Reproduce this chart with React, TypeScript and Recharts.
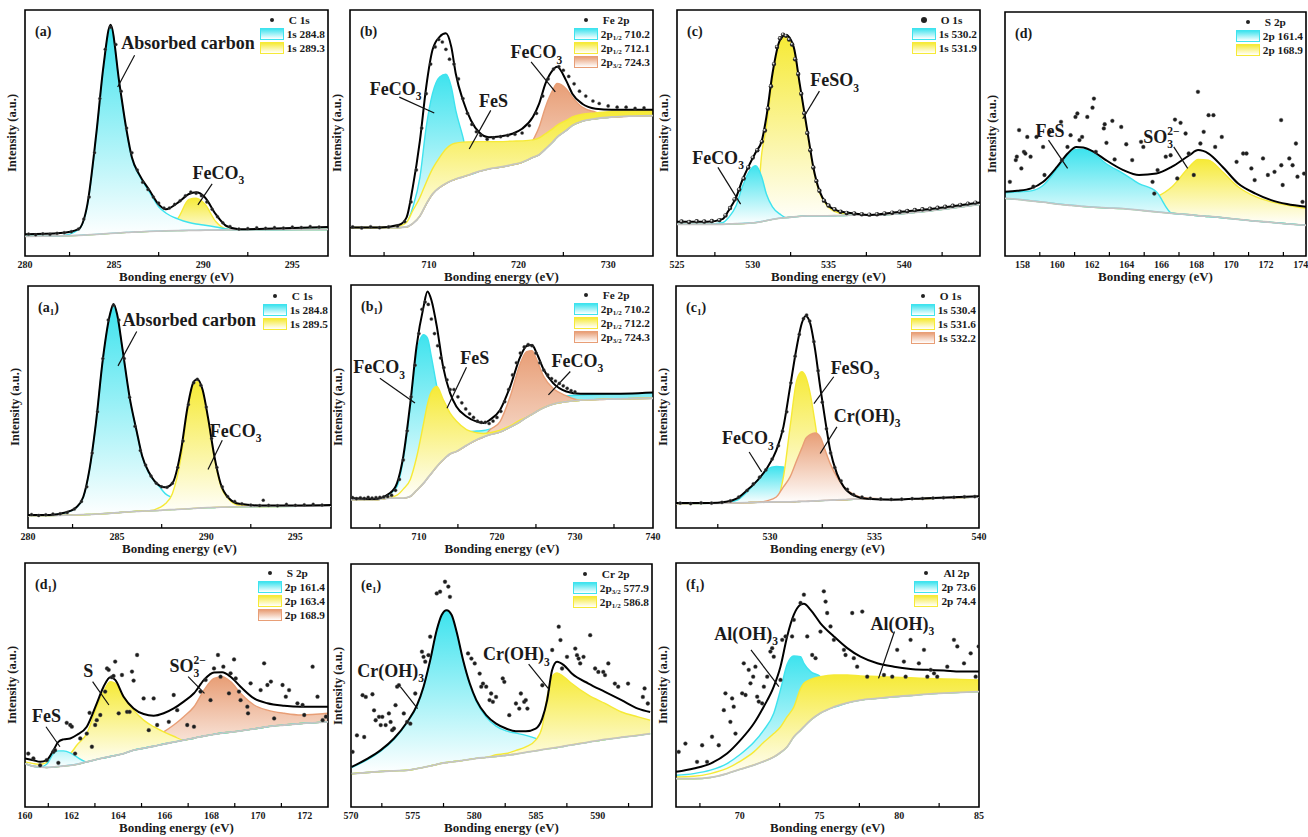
import React from 'react';
import {
  ComposedChart, Area, Line, Scatter, XAxis, YAxis,
  ReferenceLine, ReferenceDot, ReferenceArea,
} from 'recharts';

const FONT = '"Times New Roman", "Liberation Serif", "DejaVu Serif", serif';
const CYAN = '#3ee3ee';
const YELLOW = '#f6ea36';
const ORANGE = '#e89e76';
const GRAY = '#c4c4c4';

// ---------------- (a) C 1s ----------------
const aE = [280, 282, 283, 283.5, 284, 284.4, 284.8, 285.3, 285.7, 286, 286.4, 287, 287.5, 287.9, 288.6, 289.2, 289.6, 290.1, 290.7, 291.3, 292, 294, 297];
const aBase = [8.0, 8.2, 8.4, 8.6, 8.8, 9.0, 9.2, 9.4, 9.6, 9.7, 9.8, 10.0, 10.1, 10.2, 10.3, 10.4, 10.4, 10.5, 10.5, 10.6, 10.6, 10.7, 10.8];
const aFit = [8.8, 9.3, 10.9, 21, 49.7, 77, 94, 70, 51, 40, 33.3, 26.5, 21, 19, 21.8, 25.2, 25.9, 23.8, 17, 12.2, 10.9, 11.2, 11.8];
const aCyan = [null, null, 10.7, 20.5, 49, 76.5, 93.5, 69.5, 50.5, 39.5, 32.8, 25.8, 20, 17.5, 15, 13.6, 13, 12.5, 11.8, 11, null, null, null];
const aYellow = [null, null, null, null, null, null, null, null, null, null, null, null, null, null, 15.5, 23, 23.5, 21, 14, 11, null, null, null];
const aDotE = [280.2, 280.6, 281, 281.4, 281.8, 282.2, 282.6, 283, 283.3, 283.6, 283.9, 284.2, 284.5, 284.8, 285.1, 285.4, 285.7, 286, 286.3, 286.6, 286.9, 287.2, 287.5, 287.8, 288.1, 288.4, 288.7, 289, 289.3, 289.6, 289.9, 290.2, 290.5, 290.8, 291.1, 291.5, 292, 292.5, 293, 293.5, 294, 294.5, 295, 295.5, 296, 296.5];
const aDotI = [8.9, 8.6, 9.0, 8.8, 9.2, 9.5, 9.9, 11, 15, 24, 42, 64, 84, 93, 86, 67, 52, 42, 35, 30, 27, 24, 21.5, 19.5, 19.5, 21, 22.5, 24.5, 26, 25.5, 24.5, 22, 19, 16, 13.5, 12, 11, 11.2, 11.5, 11.3, 11.6, 11.4, 11.8, 11.6, 12, 11.8];

// ---------------- (b) Fe 2p ----------------
const bE = [701.2, 704.5, 706.7, 707.5, 708.2, 709, 709.7, 710.4, 711.2, 711.9, 712.5, 713, 713.8, 714.7, 715.6, 716.7, 717.9, 719.3, 720.4, 721.6, 722.3, 723, 723.8, 724.3, 725.3, 726, 727.1, 728.6, 730.4, 732.7, 735];
const bBase = [11.6, 11.6, 11.6, 11.8, 13.2, 16.3, 21.1, 25.2, 27.9, 29.5, 30.6, 31.3, 32.2, 33.3, 34.4, 35.4, 36.1, 37.1, 38.1, 40.1, 41.2, 43.5, 46.3, 48.3, 51, 53.1, 54.8, 55.8, 56.5, 56.9, 57.1];
const bFit = [11.6, 11.6, 12.7, 15.6, 27.9, 46.9, 68.7, 83.7, 89.1, 90.5, 85, 74.1, 63.3, 55.1, 50.3, 48.3, 48.6, 49.7, 51.7, 56.5, 61.9, 70.1, 75.5, 76.9, 71.4, 66, 61.9, 59.9, 59.5, 59.5, 59.5];
const bCyan = [null, null, null, 13.2, 19.7, 32, 52.4, 66, 72.8, 73.9, 68.7, 59.2, 48.3, null, null, null, null, null, null, null, null, null, null, null, null, null, null, null, null, null, null];
const bYellow = [null, null, 12.2, 13.6, 18.4, 23.8, 29.9, 35.4, 40.1, 43.5, 45.3, 45.9, 46.3, 46.4, 46.5, 46.5, 46.5, 46.7, 46.8, 47.2, 48, 49.7, 51.7, 53.1, 55.1, 56.5, 57.6, 58.2, 58.8, 59, 59];
const bOrange = [null, null, null, null, null, null, null, null, null, null, null, null, null, null, null, null, null, null, null, 46.9, 52.4, 60.5, 67.3, 70.1, 68, 64.6, 60.5, 58.5, null, null, null];
const bDotE = [701.5, 702.5, 703.5, 704.5, 705.5, 706.5, 707.3, 708, 708.6, 709.2, 709.7, 710.2, 710.7, 711.1, 711.5, 711.9, 712.3, 712.8, 713.3, 713.8, 714.3, 714.8, 715.3, 715.8, 716.5, 717.2, 718, 718.8, 719.6, 720.4, 721.2, 722, 722.7, 723.3, 723.9, 724.5, 725, 725.6, 726.2, 726.8, 727.5, 728.3, 729, 730, 731, 732, 733, 734];
const bDotI = [11.8, 11.4, 11.9, 11.5, 11.8, 12.2, 14, 22, 35, 52, 66, 78, 85, 88, 87, 84, 80, 78, 72, 64, 58, 53.5, 50.5, 49, 47.5, 48, 48.5, 49, 49.5, 50, 53, 58, 65, 72, 76, 77, 75.5, 73, 70, 67, 65, 63, 62, 61, 60.5, 60.5, 60, 60.2];

// ---------------- (c) O 1s ----------------
const cE = [525, 527, 528, 528.4, 528.9, 529.3, 529.8, 530.2, 530.6, 530.9, 531.3, 531.8, 532.2, 532.7, 533.1, 533.6, 534, 534.4, 534.9, 535.6, 536.7, 537.8, 539.3, 541.6, 543.8, 545];
const cBase = [12.9, 12.9, 12.9, 13, 13.1, 13.2, 13.4, 13.6, 14, 14.4, 14.9, 15.4, 15.6, 15.9, 16.1, 16.3, 16.3, 16.3, 16.3, 16.4, 16.6, 16.6, 17, 18.3, 20, 21];
const cFit = [13.9, 13.9, 15, 18.4, 23.8, 30.6, 37.4, 42.2, 46.9, 56.5, 74.1, 87.8, 89.8, 85, 70, 51, 36, 26.5, 21.1, 18.4, 17.3, 16.7, 17.7, 19, 20.7, 21.8];
const cCyan = [null, null, 13.5, 15.6, 20.4, 27.9, 34.7, 36.7, 32, 25.2, 20, 17, 15.6, null, null, null, null, null, null, null, null, null, null, null, null, null];
const cYellow = [null, null, null, null, null, null, null, 15, 42, 52.4, 72, 87, 89.4, 84.4, 69.4, 50.3, 35.4, 25.9, 20.4, 17.7, 16.7, null, null, null, null, null];
const cDotE = [525.3, 525.8, 526.3, 526.8, 527.3, 527.8, 528.2, 528.5, 528.8, 529.1, 529.4, 529.7, 530, 530.3, 530.6, 530.8, 531, 531.2, 531.4, 531.6, 531.8, 532, 532.2, 532.4, 532.6, 532.8, 533, 533.2, 533.4, 533.6, 533.8, 534, 534.2, 534.4, 534.7, 535, 535.4, 535.8, 536.2, 536.7, 537.2, 537.7, 538.2, 538.7, 539.2, 539.7, 540.2, 540.7, 541.2, 541.7, 542.2, 542.7, 543.2, 543.7, 544.2, 544.7];
const cDotI = [14, 13.8, 14.1, 14, 14.2, 14.6, 16.5, 19.5, 23, 27, 31.5, 36, 40, 43, 46.5, 51, 60, 69, 78, 85, 88.5, 90, 89.5, 88, 86, 80, 74, 66, 58, 50, 43, 36, 30.5, 26.5, 22.5, 20.5, 19, 18, 17.5, 17.3, 17, 16.8, 17, 17.3, 17.6, 18, 18.3, 18.7, 19, 19.2, 19.6, 20, 20.4, 20.8, 21.3, 21.7];

// ---------------- (d) S 2p ----------------
const dE = [157, 157.7, 158.5, 159.2, 160, 160.6, 161.1, 161.5, 162.1, 162.8, 163.8, 164.7, 165.7, 166.6, 167.6, 168.1, 168.7, 169.5, 170.4, 171.4, 172.3, 173.2, 174.3];
const dBase = [23.6, 23.2, 22.6, 22.1, 21.3, 20.9, 20.6, 20.3, 20, 19.7, 19.4, 18.8, 18.1, 17.5, 16.9, 16.5, 16.2, 15.7, 15, 14.3, 13.8, 13.2, 12.6];
const dFit = [26.3, 26.7, 27.7, 30.4, 36.6, 42, 44.7, 44.5, 42.7, 39.3, 35.2, 33.2, 33.8, 36.6, 41.3, 43.4, 42, 36.6, 29.7, 25.6, 22.9, 21.3, 20.2];
const dCyan = [25.9, 26.3, 26.7, 29, 35.9, 41.3, 43.7, 43.7, 42, 37.9, 33.8, 29.7, 26.3, null, null, null, null, null, null, null, null, null, null];
const dYellow = [24.3, 23.9, 23.4, 22.9, 22.2, 21.9, 21.6, 21.4, 21.3, 21.3, 21.8, 22.9, 24.3, 28.4, 36.6, 39.6, 39.3, 34.5, 28.4, 24.3, 22.2, 20.9, 19.5];
const dDotE = [157.28, 157.62, 157.68, 157.81, 157.94, 158.09, 158.17, 158.28, 158.47, 158.63, 158.81, 159.19, 159.27, 159.57, 160.22, 160.27, 160.59, 160.77, 161.05, 161.16, 161.28, 161.43, 161.73, 162.03, 162.11, 162.22, 162.68, 162.73, 162.83, 163.17, 163.3, 163.68, 163.97, 164.31, 164.82, 164.95, 165.48, 165.58, 165.77, 166.24, 166.52, 166.77, 166.9, 167.09, 167.38, 167.56, 167.85, 168.09, 168.23, 168.42, 168.7, 168.98, 169.08, 169.46, 170.31, 170.69, 170.88, 171.16, 171.35, 171.83, 172.11, 172.49, 172.87, 172.88, 172.96, 173.34, 173.53, 173.72, 173.81, 174.1, 174.19];
const dDotI = [30.4, 39.3, 40.7, 51.6, 35.9, 42.7, 42, 48.8, 40.7, 28.4, 48.8, 44.7, 33.2, 50.9, 55, 39.3, 44.7, 49.5, 57, 58.4, 47.5, 48.8, 57, 60.8, 64.5, 42.7, 52.3, 54, 46.4, 55.4, 39.6, 52.9, 45.8, 39.3, 46.8, 44.7, 30.4, 25.6, 35.2, 40.7, 41.3, 55.9, 31.8, 54.6, 50.2, 42, 33.2, 67.3, 46.1, 50.9, 57.7, 57.7, 44.7, 48.8, 38.6, 42, 42, 35.9, 31.1, 40, 33.2, 34.5, 55.7, 37.2, 29.1, 40, 37.2, 46.1, 32.5, 22.2, 33.8];

// ---------------- (a1) C 1s ----------------
const a1E = [280, 281.2, 282.1, 282.7, 283.1, 283.45, 283.8, 284.2, 284.6, 284.8, 285, 285.3, 285.7, 286.1, 286.4, 286.8, 287.4, 287.7, 288.1, 288.6, 288.95, 289.3, 289.5, 289.8, 290.1, 290.45, 290.8, 291.3, 291.85, 293, 295.2, 297];
const a1Base = [5, 5.1, 5.3, 5.4, 5.5, 5.6, 5.7, 5.9, 6.1, 6.2, 6.3, 6.5, 6.7, 6.9, 7, 7.1, 7.3, 7.5, 7.6, 7.8, 7.9, 8.1, 8.2, 8.3, 8.4, 8.5, 8.6, 8.7, 8.8, 8.9, 9, 9.1];
const a1Fit = [5.4, 5.4, 6.4, 8.5, 12.8, 24.2, 42.7, 69.8, 88.3, 92.6, 88.3, 74, 54.1, 39.9, 29.9, 22.8, 17.4, 16.8, 18.5, 32.8, 49.9, 60.5, 61.5, 57, 45.6, 29.9, 18.5, 12.1, 10, 9.3, 9.3, 9.5];
const a1Cyan = [null, 5.3, 6.3, 8.4, 12.6, 24, 42.5, 69.5, 88, 92.3, 88, 73.7, 53.8, 39.6, 29.6, 22.4, 16.8, 14.2, 12.5, 10.5, 9.3, null, null, null, null, null, null, null, null, null, null, null];
const a1Yellow = [null, null, null, null, null, null, null, null, null, null, null, null, null, null, null, null, 8.5, 10, 14.2, 29.9, 48.4, 59.1, 60.5, 56.3, 44.9, 29.2, 17.8, 11.7, 9.4, null, null, null];
const a1DotE = [280.2, 280.6, 281, 281.4, 281.8, 282.2, 282.6, 283, 283.3, 283.6, 283.9, 284.2, 284.5, 284.8, 285.1, 285.4, 285.7, 286, 286.3, 286.6, 286.9, 287.2, 287.5, 287.8, 288.1, 288.4, 288.7, 289, 289.3, 289.5, 289.7, 290, 290.3, 290.6, 290.9, 291.2, 291.6, 292, 292.5, 293, 293.2, 293.5, 294, 294.5, 295, 295.5, 296, 296.5];
const a1DotI = [5.6, 5.2, 5.5, 5.8, 5.9, 6.4, 7.8, 11, 17, 31, 48, 70, 86, 92, 86, 70, 54, 42, 32, 26, 21.5, 18.5, 17, 16.8, 18.5, 25, 36, 51, 60, 61.5, 59, 50, 37, 25, 17, 13, 11, 10, 9.5, 9.3, 11.5, 9.4, 9.2, 9.8, 9.4, 9.6, 9.8, 9.5];

// ---------------- (b1) Fe 2p ----------------
const b1E = [701.3, 704.2, 706.3, 707.2, 708, 708.9, 709.7, 710.6, 711.1, 711.6, 712.3, 713.1, 714, 714.8, 716.1, 717.4, 718.3, 719.1, 720.4, 721.7, 723, 723.8, 724.5, 725.1, 726, 727.2, 728.9, 730.7, 734.1, 740];
const b1Base = [11.6, 11.6, 12.3, 12.3, 12.3, 13, 15.5, 18.5, 20.5, 22.5, 25.3, 28, 30.5, 31.5, 34, 36.3, 37.5, 38.4, 39.5, 41.5, 43.8, 45.5, 46.8, 48, 49.5, 51, 52, 52.6, 53, 53.4];
const b1Fit = [12.3, 11.9, 14.4, 18.5, 29.5, 51.4, 74.7, 91.1, 97.3, 93.8, 82.9, 66.4, 55.5, 50, 45.9, 43.8, 43.2, 44.5, 48.6, 58.2, 70.5, 74.9, 75.3, 71.9, 65.1, 59.6, 56.2, 55.2, 55.2, 55.8];
const b1Cyan = [null, null, 14.1, 17.1, 28.1, 50, 71.9, 79.5, 78.1, 70.5, 58.2, 47.3, 42.5, 40.7, 39.7, 39.9, 40.1, 40.7, 42, 43.8, 46, 48, 49.5, 50.5, 52, 53.2, 54.3, 54.7, 55, 55.5];
const b1Yellow = [null, null, 12.6, 13.5, 16, 20, 29, 43, 51, 56, 58.2, 53, 47.3, 44, 40.5, 39.2, 38.9, 39.2, 40.3, 42, 44.5, null, null, null, null, null, null, null, null, null];
const b1Orange = [null, null, null, null, null, null, null, null, null, null, null, null, null, null, null, null, null, 40.4, 43.8, 54.1, 67.8, 72.6, 73, 69.2, 62.3, 57.5, 54.4, null, null, null];
const b1DotE = [701.5, 702, 702.5, 703, 703.5, 704, 704.5, 705, 705.5, 706, 706.5, 707, 707.5, 708, 708.5, 709, 709.5, 710, 710.4, 710.8, 711.2, 711.6, 712, 712.4, 712.8, 713.2, 713.6, 714, 714.5, 715, 715.5, 716, 716.5, 717, 717.5, 718, 718.5, 719, 719.5, 720, 720.5, 721, 721.5, 722, 722.5, 723, 723.5, 724, 724.5, 725, 725.5, 726, 726.5, 727, 727.5, 728, 728.5, 729, 729.5, 730];
const b1DotI = [12.5, 12.1, 12.4, 12.2, 12.6, 12.3, 12.5, 12.6, 12.8, 13, 13.5, 15.5, 20, 28, 40, 54, 67, 80, 90, 93, 92, 86, 80, 75, 70, 66, 61, 57, 57, 54, 51.5, 49, 47, 45.5, 44, 43.5, 43.5, 43, 44, 45.5, 48, 52, 57, 63, 68, 72, 74.5, 75.5, 75, 72, 68, 65, 63, 61.5, 60.5, 59.5, 58.5, 57.5, 56.5, 56];

// ---------------- (c1) O 1s ----------------
const c1E = [525.5, 527.1, 527.9, 528.4, 528.9, 529.4, 529.84, 530.3, 530.64, 530.96, 531.28, 531.52, 531.71, 531.92, 532.16, 532.4, 532.64, 532.88, 533.2, 533.53, 534, 534.65, 535.9, 537.5, 540];
const c1Base = [10.1, 10.2, 10.3, 10.4, 10.5, 10.6, 10.7, 10.8, 10.8, 10.8, 10.9, 11, 11, 11.1, 11.2, 11.3, 11.4, 11.5, 11.6, 11.7, 11.9, 12, 12, 12.2, 12.8];
const c1Fit = [10.3, 10.3, 10.8, 12.1, 15.6, 19.7, 24.6, 32.1, 41.8, 58.3, 74.9, 84.6, 87.6, 84.6, 73.5, 58.3, 44.6, 32.1, 22.5, 17, 13.5, 12.1, 11.7, 12.3, 13.1];
const c1Cyan = [null, null, 10.5, 11.4, 14.9, 19.7, 24.1, 25.4, 25.2, 20, 16, 13.5, 12.5, 11.8, null, null, null, null, null, null, null, null, null, null, null];
const c1Yellow = [null, null, null, null, null, null, null, 11.4, 21.1, 41.8, 61.1, 64.6, 62.5, 55.6, 43.2, 29.4, 21.1, 15.6, 12.8, null, null, null, null, null, null];
const c1Orange = [null, null, null, null, null, null, 11.2, 12.8, 17, 21.1, 28, 33, 37, 38.6, 39.3, 37.7, 32.1, 26.6, 21.1, 17, 13.9, 12.3, null, null, null];
const c1DotE = [525.7, 526.2, 526.7, 527.2, 527.7, 528.1, 528.5, 528.9, 529.2, 529.5, 529.8, 530.1, 530.4, 530.6, 530.8, 531, 531.2, 531.4, 531.6, 531.75, 531.9, 532.1, 532.3, 532.5, 532.7, 532.9, 533.1, 533.4, 533.7, 534, 534.4, 534.8, 535.3, 535.8, 536.3, 536.8, 537.3, 537.8, 538.3, 538.8, 539.3, 539.8];
const c1DotI = [10.3, 10.1, 10.4, 10.3, 10.6, 11.2, 12.8, 15.5, 18.2, 21, 24, 28.5, 34, 40, 48, 60, 71, 80, 86.5, 88, 85.5, 77, 65, 52, 41, 31, 25, 19.5, 16, 13.8, 12.8, 12.3, 12, 11.8, 11.9, 12.1, 12.2, 12.4, 12.5, 12.7, 12.9, 13];

// ---------------- (d1) S 2p ----------------
const d1E = [160, 160.36, 160.65, 160.93, 161.22, 161.43, 161.65, 161.94, 162.22, 162.65, 163.08, 163.37, 163.66, 163.87, 164.23, 164.66, 165.09, 165.52, 165.95, 166.38, 166.81, 167.25, 167.68, 168.11, 168.46, 168.82, 169.25, 169.83, 170.4, 171.12, 171.84, 173];
const d1Base = [17.8, 16.7, 16.4, 16.2, 16.4, 16.6, 16.8, 17.1, 17.5, 18.5, 19.5, 20.1, 20.7, 21.1, 21.9, 23.3, 24.1, 24.9, 25.8, 26.6, 27.4, 28.2, 29.1, 29.8, 30.3, 30.7, 31.2, 32, 32.9, 33.6, 34.2, 34.9];
const d1Fit = [19.9, 19.2, 18.5, 19.2, 23.3, 26.7, 27.7, 28.1, 29.5, 32.9, 42.5, 49.3, 53.2, 52.1, 45.2, 40.4, 38.1, 37.4, 38.4, 40.4, 43.2, 46.6, 52.1, 55.1, 55.2, 53.4, 49.3, 44.5, 42.5, 41.5, 41.1, 41.1];
const d1Cyan = [null, null, null, 17.5, 21.9, 23, 23, 22.2, 20.5, null, null, null, null, null, null, null, null, null, null, null, null, null, null, null, null, null, null, null, null, null, null, null];
const d1Yellow = [18.5, 17.8, 17.5, 18.2, 19.2, 20.2, 21, 21.9, 25.3, 30.1, 41.1, 47.3, 51.4, 50.7, 45.2, 39.7, 35.6, 32.9, 30.8, 29, null, null, null, null, null, null, null, null, null, null, null, null];
const d1Orange = [17.9, 17, 16.7, 16.6, 16.8, 17, 17.3, 17.7, 18.2, 19.2, 20.3, 21, 21.7, 22.2, 23.3, 24.7, 26.5, 28.8, 30.8, 33.6, 37, 41.1, 47.9, 52.7, 53.4, 51.4, 46.6, 41.8, 39.7, 38.4, 37.7, 38.4];
const d1DotE = [160.14, 160.36, 160.65, 160.93, 161.22, 161.29, 161.43, 161.79, 161.94, 162.01, 162.15, 162.37, 162.65, 162.77, 162.87, 163.01, 163.08, 163.23, 163.44, 163.52, 163.59, 163.73, 163.8, 163.87, 164.02, 164.16, 164.38, 164.49, 164.59, 164.66, 164.81, 165.09, 165.31, 165.52, 165.67, 166.17, 166.38, 166.53, 166.96, 167.25, 167.53, 167.75, 167.96, 168.11, 168.28, 168.39, 168.51, 168.75, 168.82, 168.97, 169.04, 169.18, 169.25, 169.54, 169.57, 169.68, 170.11, 170.26, 170.4, 170.55, 170.69, 171.05, 171.19, 171.33, 171.69, 171.91, 171.98, 172.34, 172.55, 172.77, 172.91];
const d1DotI = [21.9, 19.9, 17.1, 19.2, 22.6, 23.3, 18.1, 34.5, 33.6, 32.9, 21.9, 28.1, 30.1, 38.6, 24.7, 33.6, 35.6, 37.7, 47.3, 56.8, 56.2, 53.2, 53.7, 59.6, 38.4, 54.1, 39, 39, 55.5, 51.8, 62.3, 44.5, 31.5, 44.5, 33.6, 34.9, 45.9, 39.7, 33.6, 32.9, 47.3, 52.1, 43.8, 56.8, 62.3, 53.4, 57.5, 46.6, 54.8, 60.5, 52.7, 47.3, 43.8, 41.1, 38.4, 50.7, 47.9, 58.9, 50, 51.4, 36.3, 50, 45.2, 47.9, 42.5, 41.8, 37.7, 57.5, 45.2, 35.6, 37];

// ---------------- (e1) Cr 2p ----------------
const e1E = [570.05, 571.34, 572.41, 573.48, 574.55, 575.35, 575.88, 576.42, 576.95, 577.35, 577.75, 578.16, 578.56, 579.09, 579.63, 580.16, 580.96, 581.76, 582.57, 583.37, 584.17, 584.97, 585.5, 585.9, 586.3, 586.7, 587.25, 587.9, 589.25, 590.59, 591.93, 593.26, 594.25];
const e1Base = [13.7, 14.2, 14.6, 14.9, 15.1, 15.8, 16.3, 16.9, 17.5, 18, 18.3, 18.6, 18.8, 19.2, 19.6, 20, 20.4, 20.8, 21.3, 21.8, 22.5, 23.1, 23.6, 23.9, 24.2, 24.5, 25, 25.6, 26.7, 27.8, 28.7, 29.5, 30.2];
const e1Fit = [16.5, 19.9, 23.4, 28.2, 35, 41.9, 49.5, 60.4, 72.8, 79, 81, 79, 72.1, 60.4, 50.8, 44, 37.8, 34.3, 32.3, 31.2, 31.2, 32.3, 36.4, 44, 56.3, 59.8, 58.4, 54.9, 50.8, 47.4, 44, 40.5, 39.1];
const e1Cyan = [16.2, 19.5, 23, 27.8, 34.6, 41.5, 49, 60, 72.4, 78.6, 80.6, 78.6, 71.7, 60, 50.3, 43.4, 37, 33.3, 31.3, 30.4, 29.5, 28.2, 26.8, 25.5, null, null, null, null, null, null, null, null, null];
const e1Yellow = [null, null, null, null, null, null, null, null, null, null, null, null, null, null, null, null, null, 21.5, 22, 23.3, 24.7, 27.5, 33, 45.3, 53.6, 55.2, 53.6, 50.8, 46, 42.6, 39.1, 37.1, 35.7];
const e1DotE = [570.13, 570.48, 570.94, 571.07, 571.2, 571.74, 571.87, 572, 572.27, 572.41, 572.54, 572.81, 573.07, 573.21, 573.34, 573.48, 573.61, 573.74, 573.88, 574.28, 574.55, 574.81, 575.21, 575.75, 575.88, 576.02, 576.28, 576.42, 576.95, 577.22, 577.62, 577.89, 578.02, 579.49, 579.76, 580.03, 580.43, 580.56, 580.7, 580.96, 581.23, 581.36, 581.5, 581.76, 582.3, 582.43, 582.83, 583.37, 583.64, 583.77, 584.04, 584.17, 584.3, 585.51, 586.31, 586.84, 586.98, 587.11, 587.51, 588.18, 588.32, 588.45, 588.58, 588.85, 589.39, 589.79, 590.05, 590.45, 590.59, 590.86, 591.39, 591.66, 592.46, 593.66, 593.8, 594.06];
const e1DotI = [22.7, 29.5, 46, 28.8, 45.3, 46.4, 39.8, 35.7, 37.1, 33.7, 37.1, 33.7, 38.5, 35, 31.6, 32.3, 41.9, 49.5, 50.1, 38.5, 35, 34.3, 46.7, 63.9, 61.8, 59.8, 62.5, 70.1, 87.9, 88.6, 92.7, 90.7, 86.5, 63.2, 61.1, 59.1, 54.9, 49.5, 50.8, 49.5, 44, 46.7, 43.3, 45.3, 52.9, 51.5, 37.8, 42.6, 40.5, 46.7, 43.3, 44, 40.5, 50.1, 64.6, 74.2, 68.7, 57, 61.8, 65.2, 62.5, 61.1, 59.1, 61.8, 70.7, 57, 55.6, 55.6, 54.3, 59.1, 50.8, 49.5, 50.8, 45.3, 48.8, 42.6];

// ---------------- (f1) Al 2p ----------------
const f1E = [66, 67.11, 68.16, 69.2, 70.04, 70.88, 71.5, 72.13, 72.55, 72.97, 73.39, 73.81, 74.02, 74.44, 75.06, 75.9, 76.74, 77.57, 78.62, 79.67, 80.71, 81.76, 82.8, 83.85, 85];
const f1Base = [11.6, 11.6, 12.1, 13.7, 15.5, 17.2, 18.7, 20.5, 22.3, 24.7, 28.8, 31.5, 32.9, 35.6, 38.5, 41, 42.7, 43.8, 44.5, 45.2, 45.7, 46.3, 46.7, 47, 47.3];
const f1Fit = [14.4, 15.8, 17.8, 21.9, 27.4, 34.2, 41.1, 49.3, 57.5, 69.9, 78.8, 82.9, 83.3, 80.8, 75.3, 69.9, 65.1, 61.6, 58.9, 57.5, 56.6, 56.2, 55.9, 55.5, 55.5];
const f1Cyan = [13, 13.7, 15.1, 17.8, 21.6, 26.5, 31.5, 38.4, 48, 58.5, 61.9, 61.6, 58.9, 55.5, 53.4, null, null, null, null, null, null, null, null, null, null];
const f1Yellow = [12.3, 12.6, 13.7, 15.8, 18.8, 22.6, 26.5, 30.1, 32.8, 37, 41, 48.5, 50.7, 52.3, 53.4, 54.1, 54.1, 53.7, 53.5, 53.2, 53, 52.7, 52.5, 52.3, 52.1];
const f1DotE = [66.17, 66.59, 67.32, 67.64, 67.95, 68.26, 68.68, 69, 69.1, 69.41, 69.52, 69.62, 69.73, 70.15, 70.25, 70.36, 70.56, 70.67, 70.84, 70.98, 71.09, 71.19, 71.4, 71.51, 71.72, 71.92, 72.03, 72.13, 72.55, 72.66, 72.87, 73.28, 73.39, 73.81, 74.02, 74.23, 74.54, 74.75, 75.06, 75.27, 75.38, 75.48, 75.69, 75.9, 76.53, 76.63, 77.05, 77.15, 77.36, 77.68, 77.99, 79.04, 79.56, 79.87, 80.29, 80.4, 80.71, 81.23, 81.55, 81.76, 81.97, 82.18, 82.38, 83.01, 83.43, 83.64, 84.06, 84.48, 84.79, 84.98];
const f1DotI = [22.6, 26, 18.5, 25.3, 18.5, 28.8, 25.3, 39.7, 46.6, 34.9, 44.5, 41.1, 30.1, 46.6, 58.9, 45.9, 56.2, 50.7, 53.4, 57.5, 45.2, 43.2, 42.5, 49.3, 53.4, 63.7, 65.1, 61.6, 52.1, 68.5, 69.9, 69.9, 76.7, 83.6, 87, 69.9, 62.3, 61, 71.9, 88.4, 84.2, 79.5, 74, 68.5, 64.4, 62.3, 79.5, 61, 57.5, 80.1, 53.4, 54.1, 53.4, 64.4, 59.6, 53.4, 68.5, 58.9, 64.4, 53.4, 56.2, 54.8, 53.4, 57.5, 68.5, 65.8, 58.9, 63, 53.4, 65.8];

// ---------------- text pieces ----------------
type Part = { t: string; s?: 'sub' | 'supback' };
const FECO3: Part[] = [{ t: 'FeCO' }, { t: '3', s: 'sub' }];
const FESO3: Part[] = [{ t: 'FeSO' }, { t: '3', s: 'sub' }];
const CROH3: Part[] = [{ t: 'Cr(OH)' }, { t: '3', s: 'sub' }];
const ALOH3: Part[] = [{ t: 'Al(OH)' }, { t: '3', s: 'sub' }];
const SO32: Part[] = [{ t: 'SO' }, { t: '3', s: 'sub' }, { t: '2−', s: 'supback' }];
const TXT = (t: string): Part[] => [{ t }];
const L = (a: string, sub?: string, b?: string): Part[] => (sub ? [{ t: a }, { t: sub, s: 'sub' }, { t: b || '' }] : [{ t: a }]);

type Ann = { parts: Part[]; x: number; y: number; line: number[]; size?: number };
type Comp = { data: (number | null)[]; color: string };
type Cfg = {
  id: string; label: string; labelSub?: string;
  left: number; top: number; w: number; h: number;
  domain: [number, number]; majors: number[]; minors: number[];
  E: number[]; base: number[]; fit: number[]; comps: Comp[];
  dotE: number[]; dotI: number[]; dotR: number; ball?: boolean;
  legendTitle: string; legend: { color: string; parts: Part[] }[];
  anns: Ann[];
};

const panels: Cfg[] = [
  {
    id: 'a', label: '(a)', left: 25, top: 10, w: 303, h: 246,
    domain: [280, 297], majors: [280, 285, 290, 295], minors: [282.5, 287.5, 292.5],
    E: aE, base: aBase, fit: aFit, comps: [{ data: aYellow, color: YELLOW }, { data: aCyan, color: CYAN }],
    dotE: aDotE, dotI: aDotI, dotR: 1.5,
    legendTitle: 'C 1s', legend: [{ color: CYAN, parts: L('1s 284.8') }, { color: YELLOW, parts: L('1s 289.3') }],
    anns: [
      { parts: TXT('Absorbed carbon'), x: 285.4, y: 84, line: [286.15, 81.6, 285.2, 68.7] },
      { parts: FECO3, x: 289.4, y: 31.5, line: [290.5, 29.3, 289.7, 20.8] },
    ],
  },
  {
    id: 'b', label: '(b)', left: 350, top: 10, w: 303, h: 246,
    domain: [701.2, 735], majors: [710, 720, 730], minors: [705, 715, 725],
    E: bE, base: bBase, fit: bFit,
    comps: [{ data: bCyan, color: CYAN }, { data: bOrange, color: ORANGE }, { data: bYellow, color: YELLOW }],
    dotE: bDotE, dotI: bDotI, dotR: 1.6,
    legendTitle: 'Fe 2p',
    legend: [
      { color: CYAN, parts: L('2p', '1/2', ' 710.2') },
      { color: YELLOW, parts: L('2p', '1/2', ' 712.1') },
      { color: ORANGE, parts: L('2p', '3/2', ' 724.3') },
    ],
    anns: [
      { parts: FECO3, x: 703.4, y: 65.6, line: [706.7, 64.6, 710.6, 58.1] },
      { parts: TXT('FeS'), x: 715.6, y: 60.5, line: [716.9, 59.2, 714.5, 43.5] },
      { parts: FECO3, x: 719.1, y: 80.3, line: [721.4, 78.9, 724.1, 66.7] },
    ],
  },
  {
    id: 'c', label: '(c)', left: 677, top: 10, w: 303, h: 246,
    domain: [525, 545], majors: [525, 530, 535, 540], minors: [527.5, 532.5, 537.5, 542.5],
    E: cE, base: cBase, fit: cFit, comps: [{ data: cYellow, color: YELLOW }, { data: cCyan, color: CYAN }],
    dotE: cDotE, dotI: cDotI, dotR: 2.2, ball: true,
    legendTitle: 'O 1s', legend: [{ color: CYAN, parts: L('1s 530.2') }, { color: YELLOW, parts: L('1s 531.9') }],
    anns: [
      { parts: FECO3, x: 526, y: 37.4, line: [527.7, 36, 529.2, 21.1] },
      { parts: FESO3, x: 533.8, y: 69, line: [534.4, 67, 533.3, 55.8] },
    ],
  },
  {
    id: 'd', label: '(d)', left: 1005, top: 12, w: 301, h: 244,
    domain: [157, 174.3], majors: [158, 160, 162, 164, 166, 168, 170, 172, 174], minors: [159, 161, 163, 165, 167, 169, 171, 173],
    E: dE, base: dBase, fit: dFit, comps: [{ data: dYellow, color: YELLOW }, { data: dCyan, color: CYAN }],
    dotE: dDotE, dotI: dDotI, dotR: 1.9,
    legendTitle: 'S 2p', legend: [{ color: CYAN, parts: L('2p 161.4') }, { color: YELLOW, parts: L('2p 168.9') }],
    anns: [
      { parts: TXT('FeS'), x: 158.76, y: 48.8, line: [159.5, 47.5, 160.6, 35.9] },
      { parts: SO32, x: 164.95, y: 46.4, line: [166.7, 44.7, 167.5, 35.9] },
    ],
  },
  {
    id: 'a1', label: '(a', labelSub: '1', left: 28, top: 286, w: 303, h: 242,
    domain: [280, 297], majors: [280, 285, 290, 295], minors: [282.5, 287.5, 292.5],
    E: a1E, base: a1Base, fit: a1Fit, comps: [{ data: a1Cyan, color: CYAN }, { data: a1Yellow, color: YELLOW }],
    dotE: a1DotE, dotI: a1DotI, dotR: 1.5,
    legendTitle: 'C 1s', legend: [{ color: CYAN, parts: L('1s 284.8') }, { color: YELLOW, parts: L('1s 289.5') }],
    anns: [
      { parts: TXT('Absorbed carbon'), x: 285.3, y: 83.6, line: [286.1, 81.2, 285.05, 67] },
      { parts: FECO3, x: 290.2, y: 37.7, line: [290.9, 36.3, 290.1, 24.2] },
    ],
  },
  {
    id: 'b1', label: '(b', labelSub: '1', left: 351, top: 285, w: 302, h: 243,
    domain: [701.3, 740], majors: [710, 720, 730, 740], minors: [705, 715, 725, 735],
    E: b1E, base: b1Base, fit: b1Fit,
    comps: [{ data: b1Cyan, color: CYAN }, { data: b1Orange, color: ORANGE }, { data: b1Yellow, color: YELLOW }],
    dotE: b1DotE, dotI: b1DotI, dotR: 1.6,
    legendTitle: 'Fe 2p',
    legend: [
      { color: CYAN, parts: L('2p', '1/2', ' 710.2') },
      { color: YELLOW, parts: L('2p', '1/2', ' 712.2') },
      { color: ORANGE, parts: L('2p', '3/2', ' 724.3') },
    ],
    anns: [
      { parts: FECO3, x: 701.6, y: 63.7, line: [705, 61.6, 709.5, 51.4] },
      { parts: TXT('FeS'), x: 715.3, y: 67.5, line: [716.1, 66.2, 713.6, 49.3] },
      { parts: FECO3, x: 727, y: 66.4, line: [729.4, 64.4, 726.6, 54.8] },
    ],
  },
  {
    id: 'c1', label: '(c', labelSub: '1', left: 676, top: 286, w: 303, h: 242,
    domain: [525.5, 540], majors: [530, 535, 540], minors: [527.5, 532.5, 537.5],
    E: c1E, base: c1Base, fit: c1Fit,
    comps: [{ data: c1Cyan, color: CYAN }, { data: c1Yellow, color: YELLOW }, { data: c1Orange, color: ORANGE }],
    dotE: c1DotE, dotI: c1DotI, dotR: 1.6,
    legendTitle: 'O 1s',
    legend: [{ color: CYAN, parts: L('1s 530.4') }, { color: YELLOW, parts: L('1s 531.6') }, { color: ORANGE, parts: L('1s 532.2') }],
    anns: [
      { parts: FECO3, x: 527.7, y: 34.6, line: [529, 31.4, 529.6, 23.2] },
      { parts: FESO3, x: 532.9, y: 63.6, line: [533.05, 62.5, 532.1, 51.4] },
      { parts: CROH3, x: 533.05, y: 43.9, line: [533.2, 41.8, 532.4, 30.8] },
    ],
  },
  {
    id: 'd1', label: '(d', labelSub: '1', left: 25, top: 563, w: 303, h: 244,
    domain: [160, 173], majors: [160, 162, 164, 166, 168, 170, 172], minors: [161, 163, 165, 167, 169, 171],
    E: d1E, base: d1Base, fit: d1Fit,
    comps: [{ data: d1Orange, color: ORANGE }, { data: d1Yellow, color: YELLOW }, { data: d1Cyan, color: CYAN }],
    dotE: d1DotE, dotI: d1DotI, dotR: 1.9,
    legendTitle: 'S 2p',
    legend: [{ color: CYAN, parts: L('2p 161.4') }, { color: YELLOW, parts: L('2p 163.4') }, { color: ORANGE, parts: L('2p 168.9') }],
    anns: [
      { parts: TXT('FeS'), x: 160.3, y: 34.9, line: [160.9, 32.9, 161.5, 24.7] },
      { parts: TXT('S'), x: 162.5, y: 53.4, line: [162.9, 51.4, 163.6, 41.8] },
      { parts: SO32, x: 166.2, y: 55.5, line: [167, 53.4, 167.7, 46.6] },
    ],
  },
  {
    id: 'e1', label: '(e', labelSub: '1', left: 351, top: 564, w: 301, h: 243,
    domain: [570, 594.4], majors: [570, 575, 580, 585, 590], minors: [572.5, 577.5, 582.5, 587.5, 592.5],
    E: e1E, base: e1Base, fit: e1Fit, comps: [{ data: e1Cyan, color: CYAN }, { data: e1Yellow, color: YELLOW }],
    dotE: e1DotE, dotI: e1DotI, dotR: 1.9,
    legendTitle: 'Cr 2p',
    legend: [{ color: CYAN, parts: L('2p', '3/2', ' 577.9') }, { color: YELLOW, parts: L('2p', '1/2', ' 586.8') }],
    anns: [
      { parts: CROH3, x: 570.5, y: 53.6, line: [574, 49.5, 575.4, 40.5] },
      { parts: CROH3, x: 580.7, y: 60.4, line: [584.4, 58.8, 586.1, 48.1] },
    ],
  },
  {
    id: 'f1', label: '(f', labelSub: '1', left: 676, top: 563, w: 303, h: 244,
    domain: [66, 85], majors: [70, 75, 80, 85], minors: [67.5, 72.5, 77.5, 82.5],
    E: f1E, base: f1Base, fit: f1Fit, comps: [{ data: f1Cyan, color: CYAN }, { data: f1Yellow, color: YELLOW }],
    dotE: f1DotE, dotI: f1DotI, dotR: 1.9,
    legendTitle: 'Al 2p', legend: [{ color: CYAN, parts: L('2p 73.6') }, { color: YELLOW, parts: L('2p 74.4') }],
    anns: [
      { parts: ALOH3, x: 68.4, y: 68.5, line: [70.7, 64.4, 72.45, 49.3] },
      { parts: ALOH3, x: 78.2, y: 72.6, line: [79.7, 71.9, 78.7, 52.7] },
    ],
  },
];

function AnnText(props: any) {
  const { cx, cy, parts, size } = props;
  if (cx == null || cy == null) return <g />;
  const small = size * 0.64;
  let off = 0;
  return (
    <text x={cx} y={cy} fontFamily={FONT} fontWeight={700} fontSize={size} fill="#1a1a1a">
      {parts.map((p: Part, k: number) => {
        let target = 0;
        let fs = size;
        let dx = 0;
        if (p.s === 'sub') { target = size * 0.3; fs = small; }
        if (p.s === 'supback') { target = -size * 0.42; fs = small; dx = -small * 0.5; }
        const dy = target - off;
        off = target;
        return <tspan key={k} dx={dx} dy={dy} fontSize={fs}>{p.t}</tspan>;
      })}
    </text>
  );
}

function HtmlParts({ parts }: { parts: Part[] }) {
  return (
    <>
      {parts.map((p, k) => p.s === 'sub'
        ? <sub key={k} style={{ fontSize: '0.62em', verticalAlign: '-0.25em', lineHeight: 0 }}>{p.t}</sub>
        : <span key={k}>{p.t}</span>)}
    </>
  );
}

const ML = 18, MR = 18, MT = 2, XH = 22;

function Panel({ cfg }: { cfg: Cfg }) {
  const rows = cfg.E.map((e, i) => {
    const r: Record<string, unknown> = { e, base: cfg.base[i], fit: cfg.fit[i] };
    cfg.comps.forEach((c, j) => {
      const v = c.data[i];
      r['c' + j] = [cfg.base[i], v == null ? cfg.base[i] : v];
    });
    return r;
  });
  const dots = cfg.dotE.map((e, i) => ({ e, i: cfg.dotI[i] }));
  const W = cfg.w + ML + MR;
  const H = cfg.h + MT + XH;
  const dotShape = (p: any) => {
    if (p.cx == null || p.cy == null) return <g />;
    if (cfg.ball) {
      return (
        <g>
          <circle cx={p.cx} cy={p.cy} r={cfg.dotR} fill="#222" />
          <circle cx={p.cx - 0.5} cy={p.cy - 0.6} r={cfg.dotR * 0.45} fill="#d8d8d8" />
        </g>
      );
    }
    return <circle cx={p.cx} cy={p.cy} r={cfg.dotR} fill="#1c1c1c" stroke="#555" strokeWidth={0.4} />;
  };
  const tickLen = 4 / cfg.h * 100;
  return (
    <div style={{ position: 'absolute', left: cfg.left - ML, top: cfg.top - MT, width: W, height: H }}>
      <ComposedChart width={W} height={H} data={rows} margin={{ top: MT, right: MR, bottom: 0, left: ML }}>
        <defs>
          {cfg.comps.map((c, j) => (
            <linearGradient key={j} id={`g-${cfg.id}-${j}`} x1="0" y1="0" x2="0" y2="1">
              <stop offset="0%" stopColor={c.color} stopOpacity={1} />
              <stop offset="100%" stopColor="#ffffff" stopOpacity={1} />
            </linearGradient>
          ))}
        </defs>
        <XAxis dataKey="e" type="number" domain={cfg.domain} ticks={cfg.majors} allowDataOverflow interval={0}
          tickLine={false} axisLine={false} height={XH} tickSize={3} tickMargin={2}
          tick={{ fontSize: 10, fontWeight: 700, fill: '#1a1a1a', fontFamily: FONT }} />
        <YAxis type="number" domain={[0, 100]} hide allowDataOverflow />
        {cfg.comps.map((c, j) => (
          <Area key={'a' + j} dataKey={'c' + j} type="monotone" stroke={c.color} strokeWidth={1.4}
            fill={`url(#g-${cfg.id}-${j})`} fillOpacity={1} dot={false} activeDot={false} isAnimationActive={false} />
        ))}
        <Line dataKey="base" type="monotone" stroke={GRAY} strokeWidth={1.8} dot={false} activeDot={false} isAnimationActive={false} />
        <Line dataKey="fit" type="monotone" stroke="#000" strokeWidth={2} dot={false} activeDot={false} isAnimationActive={false} />
        <Scatter data={dots} dataKey="i" shape={dotShape} isAnimationActive={false} />
        {cfg.minors.map((t) => (
          <ReferenceLine key={'m' + t} segment={[{ x: t, y: 0 }, { x: t, y: tickLen }]} stroke="#000" strokeWidth={1.2} />
        ))}
        {cfg.anns.map((a, k) => (
          <ReferenceLine key={'l' + k} segment={[{ x: a.line[0], y: a.line[1] }, { x: a.line[2], y: a.line[3] }]} stroke="#111" strokeWidth={1.2} />
        ))}
        {cfg.anns.map((a, k) => (
          <ReferenceDot key={'t' + k} x={a.x} y={a.y} r={0}
            shape={(p: any) => <AnnText cx={p.cx} cy={p.cy} parts={a.parts} size={a.size || 18} />} />
        ))}
        <ReferenceArea x1={cfg.domain[0]} x2={cfg.domain[1]} y1={0} y2={100} fill="none" fillOpacity={0} stroke="#000" strokeWidth={1.6} />
      </ComposedChart>
    </div>
  );
}

function Overlay({ cfg }: { cfg: Cfg }) {
  const right = 1308 - (cfg.left + cfg.w) + 3;
  return (
    <>
      <div style={{ position: 'absolute', left: cfg.left + 10, top: cfg.top + 14, fontSize: 14, fontWeight: 700, lineHeight: '16px' }}>
        {cfg.label}
        {cfg.labelSub ? <sub style={{ fontSize: 9, verticalAlign: '-0.3em', lineHeight: 0 }}>{cfg.labelSub}</sub> : null}
        {cfg.labelSub ? ')' : ''}
      </div>
      <div style={{ position: 'absolute', right, top: cfg.top + 3, fontSize: 11.3, fontWeight: 700 }}>
        <div style={{ display: 'flex', alignItems: 'center', height: 14 }}>
          <div style={{ width: 24, display: 'flex', justifyContent: 'center' }}>
            <span style={{ width: cfg.ball ? 6 : 4, height: cfg.ball ? 6 : 4, borderRadius: '50%', background: '#222', display: 'inline-block' }} />
          </div>
          <span style={{ marginLeft: 5 }}>{cfg.legendTitle}</span>
        </div>
        {cfg.legend.map((it, k) => (
          <div key={k} style={{ display: 'flex', alignItems: 'center', height: 14 }}>
            <div style={{ width: 24, height: 12, boxSizing: 'border-box', border: `1.2px solid ${it.color}`, background: `linear-gradient(${it.color}, #ffffff)` }} />
            <span style={{ marginLeft: 3, whiteSpace: 'nowrap' }}><HtmlParts parts={it.parts} /></span>
          </div>
        ))}
      </div>
      <div style={{ position: 'absolute', left: cfg.left, width: cfg.w, top: cfg.top + cfg.h + 13, textAlign: 'center', fontSize: 13, fontWeight: 700, lineHeight: '16px' }}>
        Bonding energy (eV)
      </div>
      <div style={{
        position: 'absolute', left: cfg.left - 13 - 60, top: cfg.top + cfg.h / 2 - 8, width: 120, height: 16,
        textAlign: 'center', fontSize: 12.5, fontWeight: 700, lineHeight: '16px', transform: 'rotate(-90deg)',
      }}>
        Intensity (a.u.)
      </div>
    </>
  );
}

export default function App() {
  return (
    <div style={{ position: 'absolute', left: 0, top: 0, width: 1308, height: 837, overflow: 'hidden', background: '#fff', fontFamily: FONT, color: '#1a1a1a' }}>
      {panels.map((p) => <Panel key={p.id} cfg={p} />)}
      {panels.map((p) => <Overlay key={'o' + p.id} cfg={p} />)}
    </div>
  );
}
